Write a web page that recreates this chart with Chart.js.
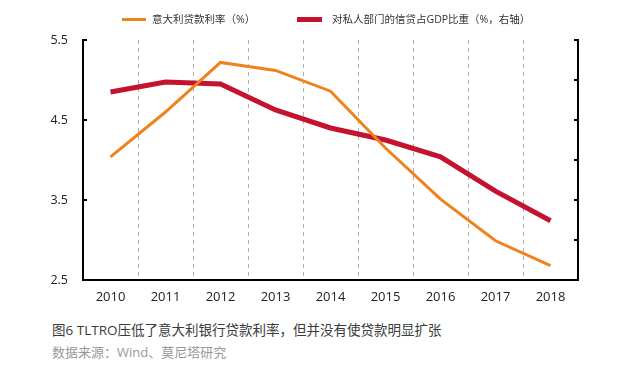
<!DOCTYPE html>
<html>
<head>
<meta charset="utf-8">
<script src="https://cdn.jsdelivr.net/npm/chart.js@4"></script>
<style>
  html, body { margin: 0; padding: 0; background: #fff; }
  body { width: 620px; height: 376px; position: relative; overflow: hidden;
         font-family: "Open Sans", "Noto Sans CJK SC", sans-serif; }
  #wrap { position: absolute; left: 0; top: 0; width: 620px; height: 310px; }
  .legend { position: absolute; top: 11px; font-size: 10.5px; color: #333; white-space: nowrap; }
  .legend span.swatch { position: absolute; top: 7px; height: 3px; }
  .caption { position: absolute; left: 52px; top: 319px; font-size: 13.5px; color: #3a3a3a; white-space: nowrap; }
  .source { position: absolute; left: 52px; top: 342px; font-size: 13px; color: #999; white-space: nowrap; }
</style>
</head>
<body>
<div id="wrap"><canvas id="chart-italy"></canvas></div>
<div class="legend" style="left:122px;"><span class="swatch" style="left:0;width:24px;background:#F0821E;"></span><span style="margin-left:30px;">意大利贷款利率（%）</span></div>
<div class="legend" style="left:297px;"><span class="swatch" style="left:0;width:25px;height:5px;top:6px;background:#C4122F;"></span><span style="margin-left:35px;">对私人部门的信贷占GDP比重（%，右轴）</span></div>
<div class="caption">图6 TLTRO压低了意大利银行贷款利率，但并没有使贷款明显扩张</div>
<div class="source">数据来源：Wind、莫尼塔研究</div>
<script>
const years = ['2010', '2011', '2012', '2013', '2014', '2015', '2016', '2017', '2018'];
// 意大利贷款利率 (左轴)
const loanRate = [4.04, 4.60, 5.22, 5.12, 4.86, 4.15, 3.51, 2.99, 2.68];
// 对私人部门的信贷占GDP比重 (右轴, 无刻度标签)
const creditGdp = [93.5, 94.75, 94.5, 91.25, 89.0, 87.5, 85.4, 81.1, 77.4];

const fontFam = '"Open Sans", "Noto Sans CJK SC", sans-serif';

// short tick marks drawn inward from the left/right axes
const innerTicks = {
    id: 'innerTicks',
    afterDraw(chart) {
        const ctx = chart.ctx;
        ctx.save();
        ctx.strokeStyle = '#000';
        ctx.lineWidth = 2;
        ['y', 'y1'].forEach(id => {
            const sc = chart.scales[id];
            const x = id === 'y' ? chart.chartArea.left : chart.chartArea.right;
            const dir = id === 'y' ? 1 : -1;
            sc.ticks.forEach((t, i) => {
                const y = Math.round(sc.getPixelForTick(i));
                ctx.beginPath();
                ctx.moveTo(x, y);
                ctx.lineTo(x + dir * 4, y);
                ctx.stroke();
            });
        });
        ctx.restore();
    }
};

new Chart(document.getElementById('chart-italy'), {
    type: 'line',
    data: {
        labels: years,
        datasets: [{
            label: '意大利贷款利率（%）',
            data: loanRate,
            borderColor: '#F0821E',
            borderWidth: 3,
            pointRadius: 0,
            tension: 0,
            yAxisID: 'y',
            order: 0
        }, {
            label: '对私人部门的信贷占GDP比重（%，右轴）',
            data: creditGdp,
            borderColor: '#C4122F',
            borderWidth: 5,
            pointRadius: 0,
            tension: 0,
            yAxisID: 'y1',
            order: 1
        }]
    },
    options: {
        responsive: true,
        maintainAspectRatio: false,
        animation: false,
        layout: { padding: { top: 40, left: 0, right: 0, bottom: 0 } },
        plugins: {
            legend: { display: false },
            tooltip: { enabled: false }
        },
        scales: {
            x: {
                offset: true,
                grid: { offset: true, color: '#b0b0b0', lineWidth: 1, drawTicks: false },
                border: { color: '#000', width: 2, dash: [4, 4] },
                ticks: { padding: 9, color: '#222', font: { family: fontFam, size: 13 } },
                afterFit: s => { s.height = 30; }
            },
            y: {
                position: 'left',
                min: 2.5, max: 5.5,
                grid: { display: false, drawTicks: false },
                border: { color: '#000', width: 2 },
                ticks: {
                    stepSize: 1, padding: 15, color: '#222',
                    font: { family: fontFam, size: 12.5 },
                    callback: v => v.toFixed(1)
                },
                afterFit: s => { s.width = 83; }
            },
            y1: {
                position: 'right',
                min: 70, max: 100,
                grid: { display: false, drawTicks: false },
                border: { color: '#000', width: 2 },
                ticks: { stepSize: 5, display: false },
                afterFit: s => { s.width = 42; }
            }
        }
    },
    plugins: [innerTicks]
});
</script>
</body>
</html>
